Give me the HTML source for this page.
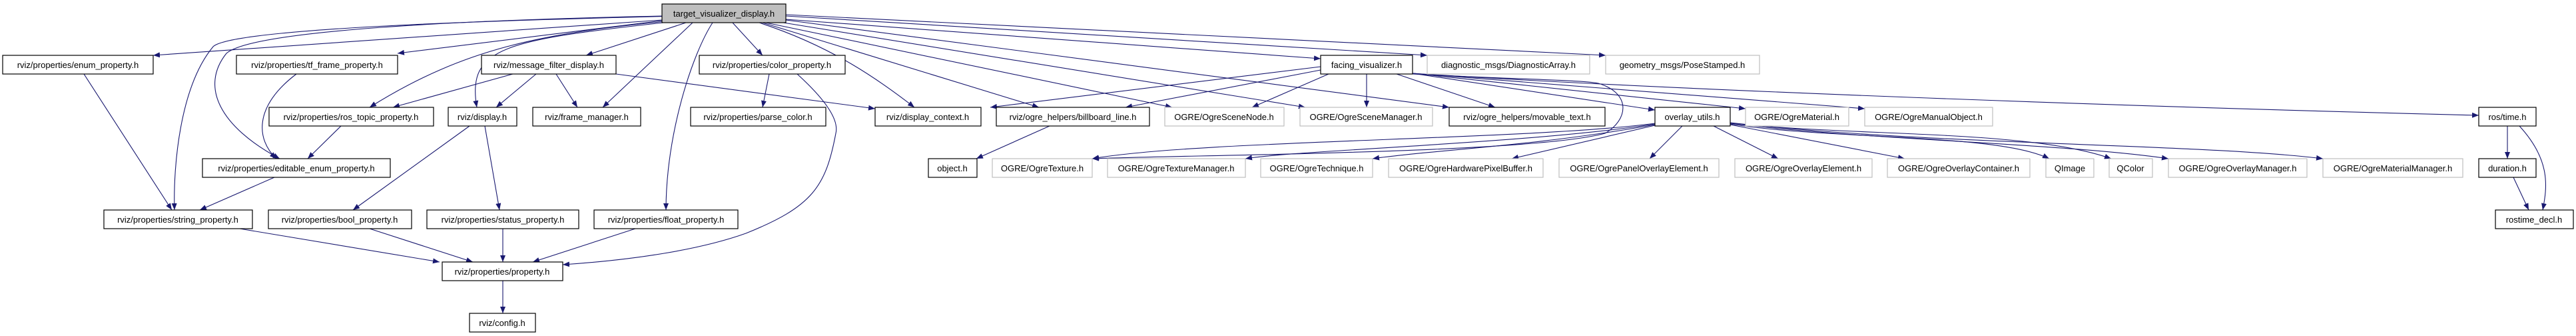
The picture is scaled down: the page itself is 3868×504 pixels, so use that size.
<!DOCTYPE html>
<html><head><meta charset="utf-8"><style>
html,body{margin:0;padding:0;background:#fff;width:3868px;height:504px;overflow:hidden}
svg{display:block}
text{font-family:"Liberation Sans",sans-serif;font-size:13px;text-anchor:middle}
.b{fill:#fff;stroke:#000;stroke-width:1.2}
.g{fill:#fff;stroke:#bfbfbf;stroke-width:1.2}
.t{fill:#bfbfbf;stroke:#000;stroke-width:1.2}
path{fill:none;stroke:#191970;stroke-width:1.1}
</style></head><body>
<svg width="3868" height="504" viewBox="0 0 3868 504" xmlns="http://www.w3.org/2000/svg">
<defs><marker id="a" markerWidth="10" markerHeight="8" refX="10" refY="4" orient="auto" markerUnits="userSpaceOnUse"><polygon points="0,0 10,4 0,8" fill="#191970"/></marker></defs>
<g marker-end="url(#a)">
<!-- from top node -->
<path d="M994,30 L230,83"/>
<path d="M994,22 C700,28 230,40 200,70 C150,130 140,250 142,315" transform="translate(120,0)"/>
<path d="M994,24 C700,30 380,45 340,80 C300,130 330,190 420,238"/>
<path d="M994,31 L597,80"/>
<path d="M1000,32 C820,50 700,70 555,161"/>
<path d="M1005,33 C760,60 700,70 716,161"/>
<path d="M1030,34 L880,83"/>
<path d="M1040,34 L905,161"/>
<path d="M1070,34 C1040,80 1000,200 1000,315"/>
<path d="M1100,34 L1145,83"/>
<path d="M1140,34 C1250,70 1320,120 1373,161"/>
<path d="M1145,34 L1560,161"/>
<path d="M1150,34 L1760,161"/>
<path d="M1170,33 L1960,161"/>
<path d="M1180,29 L1983,88"/>
<path d="M1180,24 L2143,83"/>
<path d="M1180,22 L2411,83"/>
<path d="M1180,30 L2176,161"/>
<!-- message filter -->
<path d="M770,111 L590,161"/>
<path d="M805,111 L745,161"/>
<path d="M835,111 L867,161"/>
<path d="M925,111 L1314,163"/>
<!-- others left -->
<path d="M445,111 C380,160 385,210 415,238"/>
<path d="M512,189 L462,238"/>
<path d="M126,111 L258,315"/>
<path d="M412,266 L300,315"/>
<path d="M705,189 L530,315"/>
<path d="M728,189 L750,315"/>
<path d="M360,343 L660,393"/>
<path d="M555,343 L710,393"/>
<path d="M755,343 L755,393"/>
<path d="M954,343 L800,393"/>
<path d="M1197,111 C1240,150 1260,180 1255,200 C1240,280 1220,310 1120,350 C1050,375 950,390 845,397"/>
<path d="M755,421 L755,470"/>
<path d="M1155,111 L1145,161"/>
<path d="M1576,189 L1466,238"/>
<!-- facing visualizer -->
<path d="M1983,100 L1487,161"/>
<path d="M1983,105 L1690,161"/>
<path d="M1995,111 L1880,161"/>
<path d="M2052,111 L2052,161"/>
<path d="M2097,111 L2245,161"/>
<path d="M2121,110 L2485,165"/>
<path d="M2121,110 L2621,163"/>
<path d="M2121,110 L2800,163"/>
<path d="M2121,110 C2500,135 3200,160 3722,173"/>
<path d="M2121,111 C2250,118 2380,120 2400,125 C2450,140 2445,180 2410,200 C2300,230 1800,232 1640,238"/>
<!-- overlay utils -->
<path d="M2485,185 C2300,210 1800,210 1640,238"/>
<path d="M2485,186 C2300,215 1950,225 1870,238"/>
<path d="M2485,187 C2300,220 2150,225 2061,238"/>
<path d="M2485,188 L2270,238"/>
<path d="M2526,189 L2477,238"/>
<path d="M2573,189 L2670,238"/>
<path d="M2598,187 L2860,238"/>
<path d="M2598,186 C2750,210 3000,200 3077,238"/>
<path d="M2598,185 C2800,205 3050,195 3170,238"/>
<path d="M2598,185 C2800,210 3100,215 3256,238"/>
<path d="M2598,184 C2900,218 3300,215 3488,238"/>
<!-- ros time -->
<path d="M3765,189 L3765,238"/>
<path d="M3783,189 C3830,240 3825,280 3818,315"/>
<path d="M3774,266 L3797,315"/>
</g>
<!-- nodes -->
<rect class="t" x="994" y="6" width="186" height="28"/><text x="1087" y="25">target_visualizer_display.h</text>
<rect class="b" x="4" y="83" width="226" height="28"/><text x="117" y="102">rviz/properties/enum_property.h</text>
<rect class="b" x="355" y="83" width="242" height="28"/><text x="476" y="102">rviz/properties/tf_frame_property.h</text>
<rect class="b" x="723" y="83" width="202" height="28"/><text x="824" y="102">rviz/message_filter_display.h</text>
<rect class="b" x="1050" y="83" width="219" height="28"/><text x="1159" y="102">rviz/properties/color_property.h</text>
<rect class="b" x="1983" y="83" width="138" height="28"/><text x="2052" y="102">facing_visualizer.h</text>
<rect class="g" x="2143" y="83" width="244" height="28"/><text x="2265" y="102">diagnostic_msgs/DiagnosticArray.h</text>
<rect class="g" x="2411" y="83" width="231" height="28"/><text x="2526" y="102">geometry_msgs/PoseStamped.h</text>

<rect class="b" x="404" y="161" width="247" height="28"/><text x="527" y="180">rviz/properties/ros_topic_property.h</text>
<rect class="b" x="673" y="161" width="103" height="28"/><text x="724" y="180">rviz/display.h</text>
<rect class="b" x="800" y="161" width="162" height="28"/><text x="881" y="180">rviz/frame_manager.h</text>
<rect class="b" x="1037" y="161" width="203" height="28"/><text x="1138" y="180">rviz/properties/parse_color.h</text>
<rect class="b" x="1314" y="161" width="159" height="28"/><text x="1393" y="180">rviz/display_context.h</text>
<rect class="b" x="1496" y="161" width="230" height="28"/><text x="1611" y="180">rviz/ogre_helpers/billboard_line.h</text>
<rect class="g" x="1749" y="161" width="179" height="28"/><text x="1838" y="180">OGRE/OgreSceneNode.h</text>
<rect class="g" x="1952" y="161" width="199" height="28"/><text x="2051" y="180">OGRE/OgreSceneManager.h</text>
<rect class="b" x="2176" y="161" width="234" height="28"/><text x="2293" y="180">rviz/ogre_helpers/movable_text.h</text>
<rect class="b" x="2485" y="161" width="113" height="28"/><text x="2541" y="180">overlay_utils.h</text>
<rect class="g" x="2621" y="161" width="155" height="28"/><text x="2698" y="180">OGRE/OgreMaterial.h</text>
<rect class="g" x="2800" y="161" width="192" height="28"/><text x="2896" y="180">OGRE/OgreManualObject.h</text>
<rect class="b" x="3722" y="161" width="86" height="28"/><text x="3765" y="180">ros/time.h</text>

<rect class="b" x="304" y="238" width="282" height="28"/><text x="445" y="257">rviz/properties/editable_enum_property.h</text>
<rect class="b" x="1394" y="238" width="73" height="28"/><text x="1430" y="257">object.h</text>
<rect class="g" x="1490" y="238" width="150" height="28"/><text x="1565" y="257">OGRE/OgreTexture.h</text>
<rect class="g" x="1663" y="238" width="207" height="28"/><text x="1766" y="257">OGRE/OgreTextureManager.h</text>
<rect class="g" x="1893" y="238" width="168" height="28"/><text x="1977" y="257">OGRE/OgreTechnique.h</text>
<rect class="g" x="2085" y="238" width="232" height="28"/><text x="2201" y="257">OGRE/OgreHardwarePixelBuffer.h</text>
<rect class="g" x="2341" y="238" width="240" height="28"/><text x="2461" y="257">OGRE/OgrePanelOverlayElement.h</text>
<rect class="g" x="2605" y="238" width="206" height="28"/><text x="2708" y="257">OGRE/OgreOverlayElement.h</text>
<rect class="g" x="2834" y="238" width="214" height="28"/><text x="2941" y="257">OGRE/OgreOverlayContainer.h</text>
<rect class="g" x="3072" y="238" width="72" height="28"/><text x="3108" y="257">QImage</text>
<rect class="g" x="3167" y="238" width="65" height="28"/><text x="3199" y="257">QColor</text>
<rect class="g" x="3256" y="238" width="208" height="28"/><text x="3360" y="257">OGRE/OgreOverlayManager.h</text>
<rect class="g" x="3488" y="238" width="210" height="28"/><text x="3593" y="257">OGRE/OgreMaterialManager.h</text>
<rect class="b" x="3722" y="238" width="86" height="28"/><text x="3765" y="257">duration.h</text>

<rect class="b" x="156" y="315" width="223" height="28"/><text x="267" y="334">rviz/properties/string_property.h</text>
<rect class="b" x="403" y="315" width="215" height="28"/><text x="510" y="334">rviz/properties/bool_property.h</text>
<rect class="b" x="641" y="315" width="228" height="28"/><text x="755" y="334">rviz/properties/status_property.h</text>
<rect class="b" x="892" y="315" width="216" height="28"/><text x="1000" y="334">rviz/properties/float_property.h</text>
<rect class="b" x="3747" y="315" width="117" height="28"/><text x="3805" y="334">rostime_decl.h</text>

<rect class="b" x="664" y="393" width="181" height="28"/><text x="754" y="412">rviz/properties/property.h</text>
<rect class="b" x="705" y="470" width="99" height="28"/><text x="754" y="489">rviz/config.h</text>
</svg>
</body></html>
